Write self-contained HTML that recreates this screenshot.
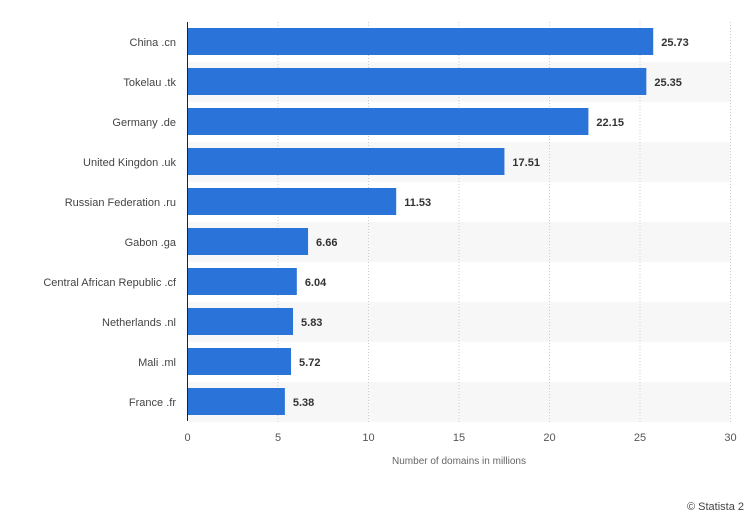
<!DOCTYPE html>
<html><head><meta charset="utf-8"><style>
body{margin:0;background:#fff;font-family:"Liberation Sans",sans-serif}
</style></head><body>
<svg id="chart" width="750" height="516" xmlns="http://www.w3.org/2000/svg">
<g id="stripes"></g><g id="grid"></g><g id="bars"></g><g id="labels"></g><g id="ticks"></g>
<line x1="187.5" y1="22" x2="187.5" y2="421" stroke="#222" stroke-width="1"/>
<text x="459" y="464" font-size="10" fill="#666" text-anchor="middle">Number of domains in millions</text>
<text x="687" y="510" font-size="11" fill="#444">© Statista 2</text>
</svg>
<script>
const categories=["China .cn","Tokelau .tk","Germany .de","United Kingdon .uk","Russian Federation .ru","Gabon .ga","Central African Republic .cf","Netherlands .nl","Mali .ml","France .fr"];
const values=[25.73,25.35,22.15,17.51,11.53,6.66,6.04,5.83,5.72,5.38];
const tickValues=[0,5,10,15,20,25,30];
const NS="http://www.w3.org/2000/svg";
const x0=187.5,x1=730.5,xmax=30,plotTop=22,band=40;
const xs=v=>x0+(v/xmax)*(x1-x0);
const yb=i=>plotTop+i*band;
function mk(t,a,p){const e=document.createElementNS(NS,t);for(const k in a)e.setAttribute(k,a[k]);document.getElementById(p).appendChild(e);return e;}
categories.forEach((c,i)=>{
 if(i%2===1){const s=mk('rect',{x:x0,y:yb(i),width:x1-x0,height:band,fill:'#f7f7f7'},'stripes');
 
 }
 const b=mk('rect',{x:x0,y:yb(i)+6,width:xs(values[i])-x0,height:27,fill:'#2a74d9'},'bars');
 
 
 const l=mk('text',{x:176,y:yb(i)+24,'font-size':11,fill:'#444','text-anchor':'end'},'labels');l.textContent=c;
 
 
 const v=mk('text',{x:xs(values[i])+8,y:yb(i)+24,'font-size':11,'font-weight':'bold',fill:'#333'},'labels');v.textContent=values[i].toFixed(2);
 
 
});
tickValues.forEach(t=>{
 if(t>0){const g=mk('line',{x1:xs(t),x2:xs(t),y1:plotTop,y2:plotTop+band*categories.length,stroke:'#ccc','stroke-dasharray':'1,2'},'grid');
 
 }
 const tx=mk('text',{x:xs(t),y:441,'font-size':11,fill:'#555','text-anchor':'middle'},'ticks');tx.textContent=t;
 
 
});
</script>
</body></html>
